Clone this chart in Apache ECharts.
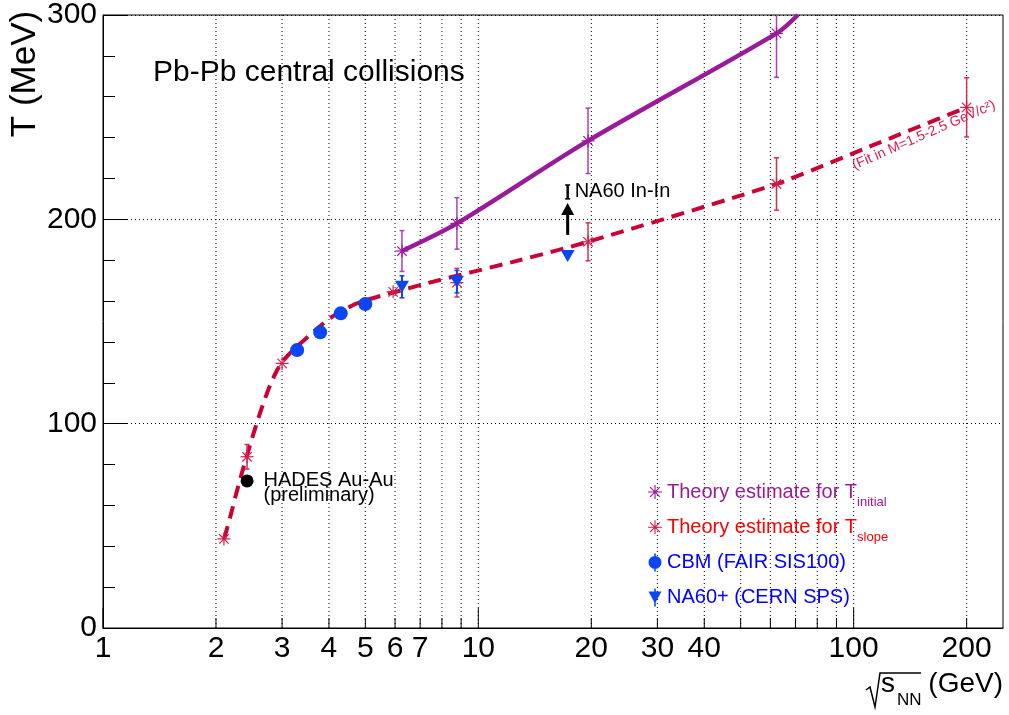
<!DOCTYPE html>
<html>
<head>
<meta charset="utf-8">
<script src="https://cdn.jsdelivr.net/npm/echarts@6/dist/echarts.min.js"></script>
<style>html,body{margin:0;padding:0;background:#fff}#c{width:1009px;height:715px}</style>
</head>
<body>
<div id="c"></div>
<script>
// ---------------- data ----------------
const xTickValues = [1,2,3,4,5,6,7,8,9,10,20,30,40,50,60,70,80,90,100,200];
const xTickLabels = [1,2,3,4,5,6,7,10,20,30,40,100,200];
const xMajorTicks = [1,10,100];

const tInitX   = [6.26, 8.77, 19.6, 62.3];
const tInitY   = [184.5, 198, 238.4, 291];
const tInitErr = [10, 12.6, 16, 21.5];
const tInitCurveX = [6.26, 8.77, 19.6, 62.3, 71];
const tInitCurveY = [184.5, 198, 238.4, 291, 300];

const tSlopeX   = [2.1, 2.42, 3.0, 5.93, 8.77, 19.6, 62.3, 200];
const tSlopeY   = [43.6, 83.8, 129.5, 164.5, 169, 189, 217.3, 254.8];
const tSlopeErr = [0, 6, 0, 0, 7, 9.3, 12.8, 14.5];
// dashed curve
const slopeCurveX = [2.102, 2.182, 2.263, 2.348, 2.421, 2.497, 2.590, 2.688, 2.788, 2.893, 3.001, 3.114, 3.251, 3.415,
                     3.609, 3.791, 4.030, 4.285, 4.642, 5.027, 5.480, 5.934, 7.29, 12.94, 19.6, 62.3, 113, 200];
const slopeCurveY = [43.6, 54.3, 65.6, 76.3, 84.7, 93.0, 102.3, 111.1, 118.9, 125.3, 130.2, 133.6, 137.0, 140.5,
                     144.4, 147.8, 151.7, 154.7, 158.1, 160.5, 162.5, 164.2, 168.7, 180.1, 189, 217.3, 236.4, 254.8];

const cbmX = [3.29, 3.79, 4.30, 5.0];
const cbmY = [136, 144.7, 154, 158.6];

const na60pX   = [6.26, 8.77, 17.3];
const na60pY   = [167, 169.5, 182];
const na60pErr = [5.4, 5.5, 0];

const hadesX = [2.42];
const hadesY = [72];

const na60InInX = [17.3];
const na60InInArrow = [192.4, 208];
const na60InInBar = [210, 216.8];

const NAME_INIT = 'Theory estimate for Tinitial';
const NAME_SLOPE = 'Theory estimate for Tslope';
const NAME_CBM = 'CBM (FAIR SIS100)';
const NAME_NA60P = 'NA60+ (CERN SPS)';

// ---------------- style ----------------
const FONT = '"Liberation Sans", Arial, Helvetica, sans-serif';
const PURPLE = '#9a1a9a', PURPLE_ERR = '#b040b0', PURPLE_TXT = '#9a1a9a';
const RED_MARK = '#d21e4b', RED_ERR = '#d03055', RED_LINE = '#cc0033', RED_TXT = '#ff0000';
const BLUE = '#0a46f5', BLUE_TXT = '#0000ff';

const ASTER = 'path://M0,9.2 L20,9.2 L20,10.8 L0,10.8 Z M9.2,0 L10.8,0 L10.8,20 L9.2,20 Z M2.4,3.5 L3.5,2.4 L17.6,16.5 L16.5,17.6 Z M16.5,2.4 L17.6,3.5 L3.5,17.6 L2.4,16.5 Z';
const CIRC_ERR = 'path://M6.2,0 L7.8,0 L7.8,18 L6.2,18 Z M7,2.5 A6.5,6.5 0 1 1 6.99,2.5 Z';
const TRI_ERR = 'path://M6.2,0 L7.8,0 L7.8,18 L6.2,18 Z M0.5,3 L13.5,3 L7,15 Z';

function ln(x1, y1, x2, y2, col, w) {
  return {type: 'line', shape: {x1, y1, x2, y2}, style: {stroke: col, lineWidth: w}};
}

function starRender(markColor, errColor) {
  return function (params, api) {
    const x = api.value(0), y = api.value(1), e = api.value(2);
    const c = api.coord([x, y]);
    const kids = [];
    if (e > 0) {
      const t = api.coord([x, y + e]), b = api.coord([x, y - e]);
      kids.push(ln(c[0], t[1], c[0], b[1], errColor, 1.5));
      kids.push(ln(c[0] - 2.5, t[1], c[0] + 2.5, t[1], errColor, 1.5));
      kids.push(ln(c[0] - 2.5, b[1], c[0] + 2.5, b[1], errColor, 1.5));
    }
    const r = 6.5, d = 4.7;
    kids.push(ln(c[0] - r, c[1], c[0] + r, c[1], markColor, 1.2));
    kids.push(ln(c[0], c[1] - r, c[0], c[1] + r, markColor, 1.2));
    kids.push(ln(c[0] - d, c[1] - d, c[0] + d, c[1] + d, markColor, 1.2));
    kids.push(ln(c[0] - d, c[1] + d, c[0] + d, c[1] - d, markColor, 1.2));
    return {type: 'group', children: kids};
  };
}

function triRender(params, api) {
  const x = api.value(0), y = api.value(1), e = api.value(2);
  const c = api.coord([x, y]);
  const kids = [];
  if (e > 0) {
    const t = api.coord([x, y + e]), b = api.coord([x, y - e]);
    kids.push(ln(c[0], t[1], c[0], b[1], BLUE, 2));
    kids.push(ln(c[0] - 2.5, t[1], c[0] + 2.5, t[1], BLUE, 1.5));
    kids.push(ln(c[0] - 2.5, b[1], c[0] + 2.5, b[1], BLUE, 1.5));
  }
  kids.push({type: 'polygon', shape: {points: [[c[0] - 7, c[1] - 6], [c[0] + 7, c[1] - 6], [c[0], c[1] + 6]]},
             style: {fill: BLUE}});
  return {type: 'group', children: kids};
}

function gridRender(params, api) {
  const v = api.value(0);
  const b = api.coord([v, 0]);
  const t = api.coord([v, 300]);
  const kids = [];
  if (v !== 1) {
    kids.push({type: 'line', shape: {x1: b[0], y1: b[1], x2: t[0], y2: t[1]},
               style: {stroke: '#000', lineWidth: 1, lineDash: [1, 3]}});
  }
  const len = xMajorTicks.indexOf(v) >= 0 ? 20 : 10;
  kids.push(ln(b[0], b[1], b[0], b[1] - len, '#000', 1));
  if (xTickLabels.indexOf(v) >= 0) {
    kids.push({type: 'text', x: b[0], y: b[1] + 21,
               style: {text: String(v), fontSize: 30, fontFamily: FONT, fill: '#000', align: 'center', verticalAlign: 'middle'}});
  }
  return {type: 'group', children: kids};
}

function inInRender(params, api) {
  const x = api.value(0);
  const a0 = api.coord([x, api.value(1)]), a1 = api.coord([x, api.value(2)]);
  const b0 = api.coord([x, api.value(3)]), b1 = api.coord([x, api.value(4)]);
  const cx = a0[0];
  return {type: 'group', children: [
    ln(cx, a0[1], cx, a1[1] + 11, '#000', 3),
    {type: 'polygon', shape: {points: [[cx - 6.5, a1[1] + 12], [cx + 6.5, a1[1] + 12], [cx, a1[1]]]}, style: {fill: '#000'}},
    ln(cx, b0[1], cx, b1[1], '#000', 2.5),
    ln(cx - 2.5, b0[1], cx + 2.5, b0[1], '#000', 1.5),
    ln(cx - 2.5, b1[1], cx + 2.5, b1[1], '#000', 1.5),
    {type: 'text', x: cx + 7, y: (b0[1] + b1[1]) / 2,
     style: {text: 'NA60 In-In', fontSize: 20, fontFamily: FONT, fill: '#000', align: 'left', verticalAlign: 'middle'}}
  ]};
}

const legendText = {};
legendText[NAME_INIT] = '{m1|Theory estimate for T}{s1|initial}';
legendText[NAME_SLOPE] = '{m2|Theory estimate for T}{s2|slope}';
legendText[NAME_CBM] = '{m3|CBM (FAIR SIS100)}{s3| }';
legendText[NAME_NA60P] = '{m3|NA60+ (CERN SPS)}{s3| }';

function mainTok(col) { return {fontSize: 20, lineHeight: 34, color: col, fontFamily: FONT, verticalAlign: 'middle'}; }
function subTok(col) { return {fontSize: 13, lineHeight: 3, color: col, fontFamily: FONT, verticalAlign: 'bottom'}; }

const chart = echarts.init(document.getElementById('c'), null, {renderer: 'canvas'});
chart.setOption({
  animation: false,
  backgroundColor: '#fff',
  grid: {left: 103, right: 6, top: 15, bottom: 87, show: true, borderColor: '#000', borderWidth: 1, backgroundColor: 'transparent'},
  xAxis: {
    type: 'log', logBase: 10, min: 1, max: 250,
    axisLine: {show: true, lineStyle: {color: '#000', width: 1}},
    axisTick: {show: false}, axisLabel: {show: false}, splitLine: {show: false}, minorTick: {show: false}
  },
  yAxis: {
    type: 'value', min: 0, max: 300, interval: 100,
    axisLine: {show: true, lineStyle: {color: '#000', width: 1}},
    axisTick: {show: true, inside: true, length: 24, lineStyle: {color: '#000'}},
    minorTick: {show: true, splitNumber: 5, length: 12, lineStyle: {color: '#000'}},
    splitLine: {show: true, lineStyle: {color: '#000', type: [1, 3]}},
    axisLabel: {fontSize: 30, color: '#000', margin: 6, fontFamily: FONT}
  },
  legend: {
    orient: 'vertical', left: 648, top: 482, padding: 0,
    itemWidth: 14, itemHeight: 18, itemGap: 8.2, selectedMode: false,
    data: [
      {name: NAME_INIT, icon: ASTER, itemStyle: {color: PURPLE}},
      {name: NAME_SLOPE, icon: ASTER, itemStyle: {color: RED_MARK}},
      {name: NAME_CBM, icon: CIRC_ERR, itemStyle: {color: BLUE}},
      {name: NAME_NA60P, icon: TRI_ERR, itemStyle: {color: BLUE}}
    ],
    formatter: function (n) { return legendText[n]; },
    textStyle: {
      fontSize: 20, fontFamily: FONT,
      rich: {
        m1: mainTok(PURPLE_TXT), s1: subTok(PURPLE_TXT),
        m2: mainTok(RED_TXT), s2: subTok(RED_TXT),
        m3: mainTok(BLUE_TXT), s3: subTok(BLUE_TXT)
      }
    }
  },
  graphic: [
    {type: 'text', x: 153, y: 73, style: {text: 'Pb-Pb central collisions', fontSize: 30, fontFamily: FONT, fill: '#000', align: 'left', verticalAlign: 'middle'}},
    {type: 'text', x: 25, y: 74, rotation: Math.PI / 2, style: {text: 'T (MeV)', fontSize: 35, fontFamily: FONT, fill: '#000', align: 'center', verticalAlign: 'middle'}},
    {type: 'polyline', shape: {points: [[866, 690], [870, 687], [875, 707], [880, 673], [921, 673]]}, style: {stroke: '#000', lineWidth: 1.5, fill: null}},
    {type: 'text', x: 881, y: 684, style: {text: 's', fontSize: 28, fontFamily: FONT, fill: '#000', align: 'left', verticalAlign: 'middle'}},
    {type: 'text', x: 897, y: 700, style: {text: 'NN', fontSize: 17, fontFamily: FONT, fill: '#000', align: 'left', verticalAlign: 'middle'}},
    {type: 'text', x: 1003, y: 684, style: {text: '(GeV)', fontSize: 28, fontFamily: FONT, fill: '#000', align: 'right', verticalAlign: 'middle'}},
    {type: 'text', x: 853, y: 166, rotation: 0.41, style: {text: '(Fit in M=1.5-2.5 GeV/c²)', fontSize: 14, fontFamily: FONT, fill: RED_MARK, align: 'left', verticalAlign: 'middle'}}
  ],
  series: [
    {type: 'custom', name: 'xgrid', silent: true, z: 1, clip: false,
     data: xTickValues.map(v => [v, 0]), renderItem: gridRender},
    {type: 'line', name: 'slopeCurve', z: 2, showSymbol: false, smooth: 0.2, silent: true,
     data: slopeCurveX.map((x, i) => [x, slopeCurveY[i]]),
     lineStyle: {color: RED_LINE, width: 4, type: [13, 8]}},
    {type: 'line', name: 'initCurve', z: 2, showSymbol: false, smooth: 0.3, silent: true,
     data: tInitCurveX.map((x, i) => [x, tInitCurveY[i]]),
     lineStyle: {color: PURPLE, width: 4.5}},
    {type: 'custom', name: NAME_INIT, z: 3, clip: true, itemStyle: {color: PURPLE},
     data: tInitX.map((x, i) => [x, tInitY[i], tInitErr[i]]), renderItem: starRender(PURPLE, PURPLE_ERR)},
    {type: 'custom', name: NAME_SLOPE, z: 3, clip: true, itemStyle: {color: RED_MARK},
     data: tSlopeX.map((x, i) => [x, tSlopeY[i], tSlopeErr[i]]), renderItem: starRender(RED_MARK, RED_ERR)},
    {type: 'scatter', name: NAME_CBM, z: 4, symbol: 'circle', symbolSize: 14, itemStyle: {color: BLUE, opacity: 1},
     data: cbmX.map((x, i) => [x, cbmY[i]])},
    {type: 'custom', name: NAME_NA60P, z: 4, clip: true, itemStyle: {color: BLUE},
     data: na60pX.map((x, i) => [x, na60pY[i], na60pErr[i]]), renderItem: triRender},
    {type: 'scatter', name: 'HADES Au-Au', z: 4, symbol: 'circle', symbolSize: 13, itemStyle: {color: '#000', opacity: 1},
     data: hadesX.map((x, i) => [x, hadesY[i]]),
     label: {show: true, position: 'right', distance: 10, offset: [0, 7.5], formatter: 'HADES Au-Au\n(preliminary)',
             fontSize: 20, lineHeight: 15, color: '#000', fontFamily: FONT}},
    {type: 'custom', name: 'NA60 In-In', z: 4, clip: false,
     data: na60InInX.map((x, i) => [x, na60InInArrow[0], na60InInArrow[1], na60InInBar[0], na60InInBar[1]]),
     renderItem: inInRender}
  ]
});
</script>
</body>
</html>
